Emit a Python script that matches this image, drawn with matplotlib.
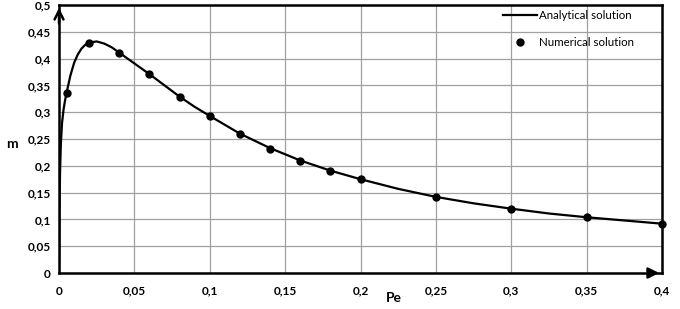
import numpy as np
import matplotlib.pyplot as plt

# Numerical solution (points)
pe_num = [0.005, 0.02, 0.04, 0.06, 0.08, 0.1, 0.12, 0.14, 0.16, 0.18, 0.2, 0.25, 0.3, 0.35, 0.4]
m_num = [0.335, 0.429, 0.411, 0.371, 0.329, 0.293, 0.259, 0.232, 0.209, 0.190, 0.175, 0.142, 0.120, 0.104, 0.092]

# Analytical solution (curve)
pe_ana = [0.0, 0.0003, 0.0007, 0.0012, 0.002, 0.003, 0.004, 0.005, 0.0075, 0.01, 0.0125, 0.015,
          0.0175, 0.02, 0.025, 0.03, 0.035, 0.04, 0.05, 0.06, 0.07, 0.08, 0.09, 0.1, 0.12,
          0.14, 0.16, 0.18, 0.2, 0.225, 0.25, 0.275, 0.3, 0.325, 0.35, 0.375, 0.4]
m_ana = [0.0, 0.12, 0.19, 0.24, 0.28, 0.305, 0.322, 0.336, 0.368, 0.392, 0.408, 0.419,
         0.426, 0.430, 0.432, 0.428, 0.421, 0.411, 0.391, 0.371, 0.350, 0.329, 0.310, 0.293, 0.260,
         0.233, 0.210, 0.191, 0.175, 0.157, 0.142, 0.130, 0.120, 0.111, 0.104, 0.098, 0.092]

xticks = [0, 0.05, 0.1, 0.15, 0.2, 0.25, 0.3, 0.35, 0.4]
yticks = [0, 0.05, 0.1, 0.15, 0.2, 0.25, 0.3, 0.35, 0.4, 0.45, 0.5]

def comma(v):
    return ('%g' % v).replace('.', ',')

plt.rcParams['font.family'] = ['Lato', 'DejaVu Sans']

fig = plt.figure(figsize=(6.8, 3.09), dpi=100)
ax = fig.add_axes([0.0868, 0.1165, 0.8867, 0.8673])

ax.plot(pe_ana, m_ana, color='black', lw=1.6, label='Analytical solution', zorder=3)
ax.plot(pe_num, m_num, 'o', color='black', ms=5, label='Numerical solution', zorder=4, clip_on=False)

ax.set_xlim(0, 0.4)
ax.set_ylim(0, 0.5)
ax.set_xticks(xticks)
ax.set_yticks(yticks)
ax.set_xticklabels([comma(v) for v in xticks], fontweight='bold', fontsize=8.5)
ax.set_yticklabels([comma(v) for v in yticks], fontweight='bold', fontsize=8.5)
ax.tick_params(axis='x', length=0, pad=9)
ax.tick_params(axis='y', length=0, pad=6)
ax.grid(True, color='#a0a0a0', lw=0.9)
ax.set_axisbelow(True)
for s in ax.spines.values():
    s.set_linewidth(1.8)
    s.set_color('black')

# Arrows on axes
ax.annotate('', xy=(0, 0.5), xytext=(0, 0.46),
            arrowprops=dict(arrowstyle='->', color='black', lw=1.8, mutation_scale=16))
ax.annotate('', xy=(0.4, 0), xytext=(0.39, 0),
            arrowprops=dict(arrowstyle='-|>', color='black', lw=1.8, mutation_scale=16))

fig.text(0.018, 0.534, 'm', fontsize=10, fontweight='bold', ha='center', va='center')
fig.text(0.579, 0.035, 'Pe', fontsize=10, fontweight='bold', ha='center', va='center')

ax.legend(loc='upper left', bbox_to_anchor=(0.736, 0.982), frameon=False, fontsize=8.3,
          handlelength=3.0, handletextpad=0.15, labelspacing=1.4, borderpad=0, borderaxespad=0)

fig.savefig('out.png', dpi=100)
